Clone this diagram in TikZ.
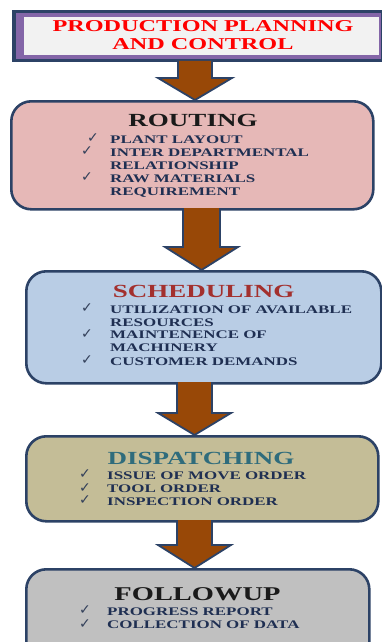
\documentclass[tikz,border=0pt]{standalone}
\usepackage{fontspec}
\setmainfont{Liberation Serif}
\newfontfamily\wfont[FakeStretch=1.46]{Liberation Serif}
\newfontfamily\chkfont{DejaVu Sans}
\usetikzlibrary{calc}
\definecolor{navy}{HTML}{2C4266}
\definecolor{itemcol}{HTML}{1F2F52}
\definecolor{chkcol}{HTML}{33405A}
\definecolor{purpband}{HTML}{8466A8}
\definecolor{ppcfill}{HTML}{F2F2F2}
\definecolor{ppcred}{HTML}{FF0000}
\definecolor{brown}{HTML}{984807}
\definecolor{routfill}{HTML}{E6B8B7}
\definecolor{schedfill}{HTML}{B9CDE5}
\definecolor{dispfill}{HTML}{C4BD97}
\definecolor{follfill}{HTML}{C0C0C0}
\definecolor{schedred}{HTML}{A3302E}
\definecolor{dispteal}{HTML}{2F6C7C}
\definecolor{titleblk}{HTML}{1A1A1A}
\begin{document}
\begin{tikzpicture}[x=1pt,y=-1pt,
  stagebox/.style={draw=navy,line width=2.6pt,rounded corners=20pt},
  fatarrow/.style={fill=brown,draw=navy,line width=1.8pt,line join=miter},
  stitle/.style={inner sep=0,anchor=base,font=\wfont\bfseries\fontsize{18.5}{20}\selectfont},
  item/.style={inner sep=0,anchor=base west,text=itemcol,font=\wfont\bfseries\fontsize{11.6}{13}\selectfont},
  chk/.style={inner sep=0,anchor=base west,text=chkcol,font=\chkfont\fontsize{14}{14}\selectfont}]
\useasboundingbox (0,0) rectangle (382,642);
\clip (0,0) rectangle (382,642);
% top box
\fill[navy] (12,10) rectangle (383,62);
\fill[purpband] (15.5,13) rectangle (381,59);
\node[fill=ppcfill,draw=none,minimum width=355pt,minimum height=38pt,inner sep=0,anchor=north west] (ppc) at (24,17) {};
\coordinate (ppcb) at (195,62);
\node[inner sep=0,anchor=base,text=ppcred,font=\wfont\bfseries\fontsize{16.6}{18}\selectfont] (ppct1) at (203,31.7) {PRODUCTION PLANNING};
\node[inner sep=0,anchor=base,text=ppcred,font=\wfont\bfseries\fontsize{16.6}{18}\selectfont] (ppct2) at (203,50) {AND CONTROL};
% boxes
\node[stagebox,fill=routfill,minimum width=362pt,minimum height=108pt,anchor=north west,inner sep=0] (rout) at (10,100) {};
\node[stagebox,fill=schedfill,minimum width=355pt,minimum height=112pt,anchor=north west,inner sep=0] (sched) at (25,270) {};
\node[stagebox,fill=dispfill,minimum width=352pt,minimum height=85pt,anchor=north west,inner sep=0] (disp) at (25,435) {};
\node[stagebox,fill=follfill,minimum width=343pt,minimum height=100pt,anchor=north west,inner sep=0] (foll) at (25,568) {};
% arrows
\draw[fatarrow] ($(ppcb)+(-17,-1)$) -- ($(ppcb)+(-17,16)$) -- ($(ppcb)+(-37,16)$) -- (rout.north -| ppcb) -- ($(ppcb)+(37,16)$) -- ($(ppcb)+(17,16)$) -- ($(ppcb)+(17,-1)$);
\coordinate (a2) at (201.5,208);
\draw[fatarrow] ($(a2)+(-18.5,0)$) -- ($(a2)+(-18.5,39)$) -- ($(a2)+(-36.5,39)$) -- (sched.north -| a2) -- ($(a2)+(36.5,39)$) -- ($(a2)+(18.5,39)$) -- ($(a2)+(18.5,0)$);
\coordinate (a3) at (194.5,382);
\draw[fatarrow] ($(a3)+(-17.5,0)$) -- ($(a3)+(-17.5,31)$) -- ($(a3)+(-36.5,31)$) -- (disp.north -| a3) -- ($(a3)+(36.5,31)$) -- ($(a3)+(17.5,31)$) -- ($(a3)+(17.5,0)$);
\coordinate (a4) at (194.5,520);
\draw[fatarrow] ($(a4)+(-17.5,0)$) -- ($(a4)+(-17.5,25)$) -- ($(a4)+(-36.5,25)$) -- (foll.north -| a4) -- ($(a4)+(36.5,25)$) -- ($(a4)+(17.5,25)$) -- ($(a4)+(17.5,0)$);
% routing
\node[stitle,text=titleblk] (routt) at (193,126.7) {ROUTING};
\node[chk] (rc1) at (87,142.5) {✓};
\node[item] (ri1) at (110,143) {PLANT LAYOUT};
\node[chk] (rc2) at (81,155.5) {✓};
\node[item] (ri2) at (110,156) {INTER DEPARTMENTAL};
\node[item] (ri3) at (110,169) {RELATIONSHIP};
\node[chk] (rc3) at (81,181.5) {✓};
\node[item] (ri4) at (110,182) {RAW MATERIALS};
\node[item] (ri5) at (110,195) {REQUIREMENT};
% scheduling
\node[stitle,text=schedred] (schedt) at (203.7,297.3) {SCHEDULING};
\node[chk] (sc1) at (81,312.5) {✓};
\node[item] (si1) at (110,313) {UTILIZATION OF AVAILABLE};
\node[item] (si2) at (110,326) {RESOURCES};
\node[chk] (sc2) at (81,338) {✓};
\node[item] (si3) at (110,338.5) {MAINTENENCE OF};
\node[item] (si4) at (110,351.5) {MACHINERY};
\node[chk] (sc3) at (81,364.5) {✓};
\node[item] (si5) at (110,365) {CUSTOMER DEMANDS};
% dispatching
\node[stitle,text=dispteal] (dispt) at (201,464) {DISPATCHING};
\node[chk] (dc1) at (79,478.5) {✓};
\node[item] (di1) at (107,479) {ISSUE OF MOVE ORDER};
\node[chk] (dc2) at (79,492) {✓};
\node[item] (di2) at (107,492.5) {TOOL ORDER};
\node[chk] (dc3) at (79,504.5) {✓};
\node[item] (di3) at (107,505) {INSPECTION ORDER};
% followup
\node[stitle,text=titleblk,font=\wfont\bfseries\fontsize{19.5}{21}\selectfont] (follt) at (197.5,600) {FOLLOWUP};
\node[chk] (fc1) at (79,614.5) {✓};
\node[item] (fi1) at (107,615) {PROGRESS REPORT};
\node[chk] (fc2) at (79,628) {✓};
\node[item] (fi2) at (107,628.3) {COLLECTION OF DATA};
\end{tikzpicture}
\end{document}
